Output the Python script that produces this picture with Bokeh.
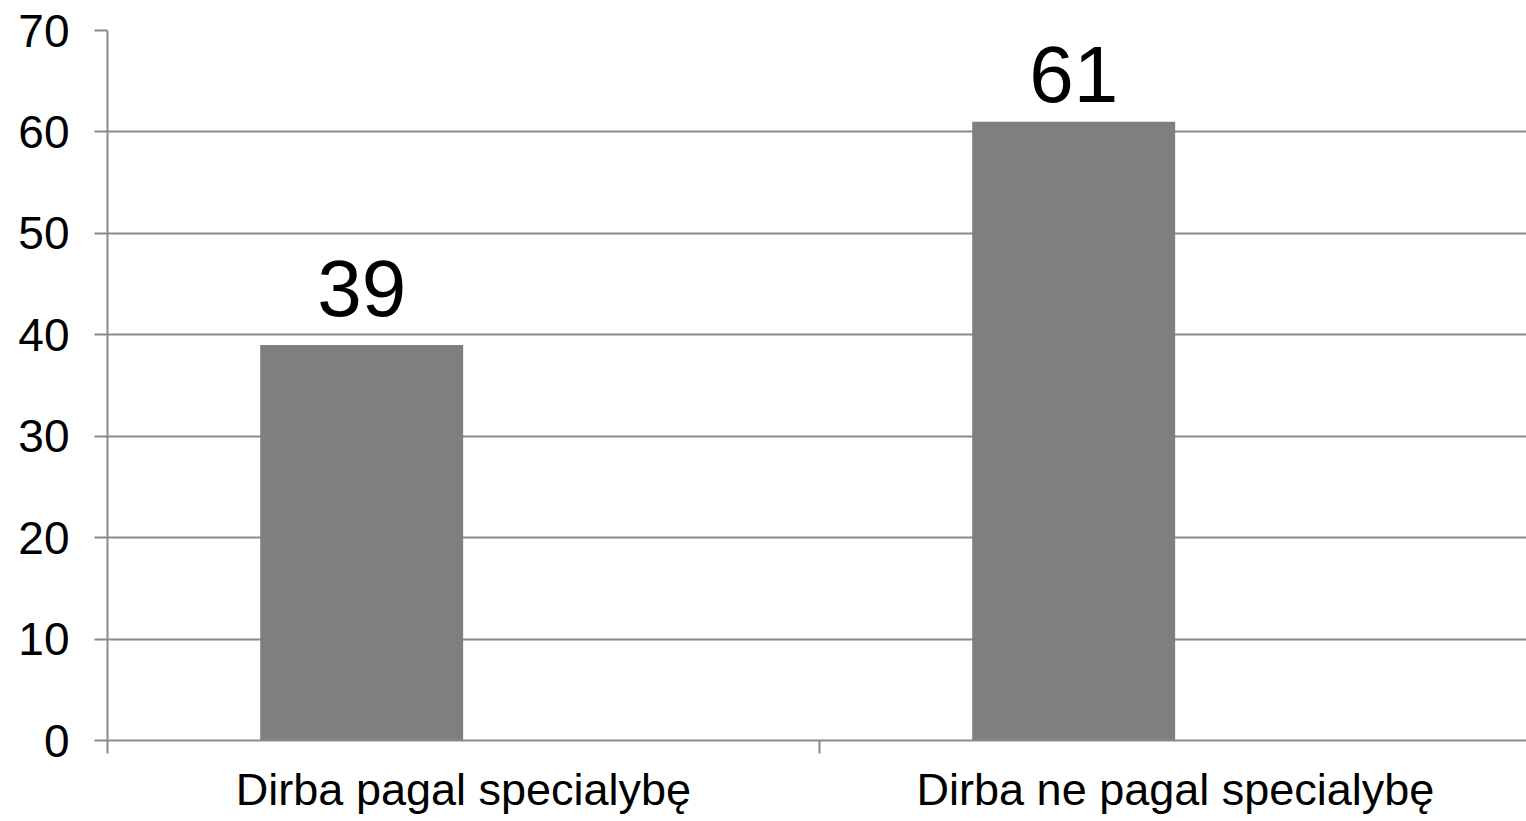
from bokeh.plotting import figure
from bokeh.models import ColumnDataSource, Range1d, FixedTicker, LabelSet
from bokeh.core.properties import value
from bokeh.embed import file_html
from bokeh.resources import INLINE

categories = ["Dirba pagal specialybę", "Dirba ne pagal specialybę"]
values = [39, 61]
y_ticks = [0, 10, 20, 30, 40, 50, 60, 70]

FONT = "Liberation Sans"
GRID = "#8a8a8a"
BAR = "#7f7f7f"

n = len(categories)
centers = [i + 0.5 for i in range(n)]
bar_offset = -0.143
bar_x = [c + bar_offset for c in centers]
# the top label is pushed down to stay inside the plot area, as in the original
label_offsets = [29, 20]

src = ColumnDataSource(dict(x=bar_x, top=values, label=[str(v) for v in values],
                            off=label_offsets))

p = figure(width=1526, height=821, output_backend="svg", toolbar_location=None,
           x_range=Range1d(0, n * 0.9965), y_range=Range1d(0, 70),
           min_border_left=107, min_border_right=0, min_border_top=30, min_border_bottom=81)
p.outline_line_color = None
p.background_fill_color = "white"
p.border_fill_color = "white"

p.vbar(x="x", top="top", bottom=0, width=0.285, source=src, fill_color=BAR, line_color=None)

labels = LabelSet(x="x", y="top", text="label", source=src, y_offset="off",
                  text_align="center", text_baseline="alphabetic",
                  text_font=value(FONT), text_font_size=value("80px"), text_color="black")
p.add_layout(labels)

# x axis
p.xaxis.ticker = FixedTicker(ticks=centers, minor_ticks=list(range(n + 1)))
p.xaxis.major_label_overrides = {c: cat for c, cat in zip(centers, categories)}
p.xaxis.major_tick_out = 0
p.xaxis.major_tick_in = 0
p.xaxis.minor_tick_out = 13
p.xaxis.minor_tick_in = 0
p.xaxis.minor_tick_line_color = GRID
p.xaxis.minor_tick_line_width = 2
p.xaxis.axis_line_color = GRID
p.xaxis.axis_line_width = 2
p.xaxis.major_label_text_font = FONT
p.xaxis.major_label_text_font_size = "45px"
p.xaxis.major_label_text_color = "black"
p.xaxis.major_label_standoff = 10

# y axis
p.yaxis.ticker = FixedTicker(ticks=y_ticks)
p.yaxis.major_tick_out = 13
p.yaxis.major_tick_in = 0
p.yaxis.minor_tick_line_color = None
p.yaxis.major_tick_line_color = GRID
p.yaxis.major_tick_line_width = 2
p.yaxis.axis_line_color = GRID
p.yaxis.axis_line_width = 2
p.yaxis.major_label_text_font = FONT
p.yaxis.major_label_text_font_size = "46px"
p.yaxis.major_label_text_color = "black"
p.yaxis.major_label_standoff = 25

p.xgrid.grid_line_color = None
p.ygrid.ticker = FixedTicker(ticks=y_ticks)
p.ygrid.grid_line_color = GRID
p.ygrid.grid_line_width = 2

open("out.html", "w").write(file_html(p, INLINE))
